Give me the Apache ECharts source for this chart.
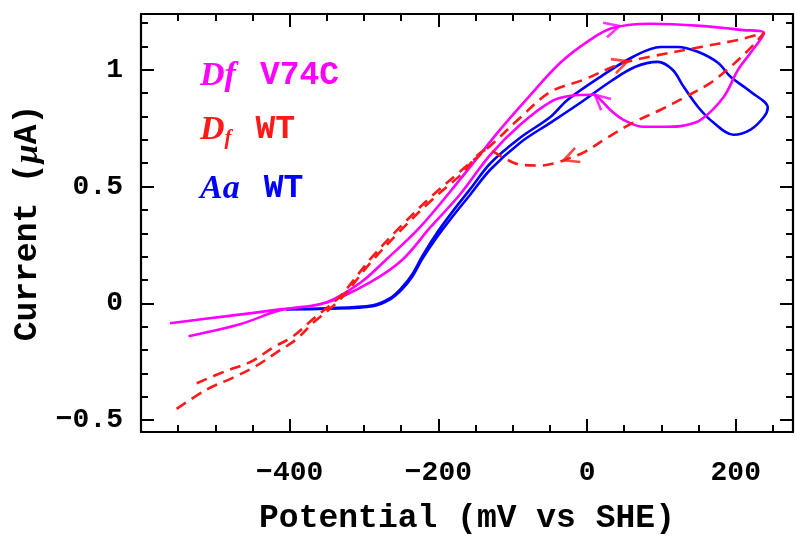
<!DOCTYPE html>
<html>
<head>
<meta charset="utf-8">
<script src="https://cdn.jsdelivr.net/npm/echarts@6.0.0/dist/echarts.min.js"></script>
<style>
html,body{margin:0;padding:0;background:#fff;}
#c{width:795px;height:543px;}
</style>
</head>
<body>
<div id="c"></div>
<script>
// ---- data (potential in mV vs SHE, current in µA) ----
const xMajorTicks = [-400, -200, 0, 200];
const xMinorTicks = [-550,-500,-450,-350,-300,-250,-150,-100,-50,50,100,150,250];
const yMajorTicks = [-0.5, 0, 0.5, 1];
const yMinorTicks = [-0.4,-0.3,-0.2,-0.1,0.1,0.2,0.3,0.4,0.6,0.7,0.8,0.9,1.1,1.2];

const dfV74C = [
  [-536,-0.141],[-467,-0.090],[-413,-0.030],[-351,0.004],[-305,0.088],[-270,0.188],
  [-225,0.325],[-171,0.530],[-117,0.744],[-76,0.893],[-36,1.030],[4,1.128],[34,1.179],
  [85,1.197],[153,1.188],[207,1.171],[238,1.158],
  [220,1.073],[203,1.000],[184,0.885],[153,0.786],[130,0.761],[108,0.756],[76,0.756],
  [49,0.786],[31,0.829],[18,0.872],[8,0.893],[-22,0.889],[-49,0.863],[-90,0.765],
  [-130,0.637],[-171,0.466],[-211,0.325],[-248,0.188],[-292,0.090],[-350,0.004],
  [-413,-0.026],[-487,-0.056],[-561,-0.085]
];
const dfWT = [
  [-525,-0.342],[-485,-0.289],[-454,-0.253],[-422,-0.189],[-395,-0.140],[-369,-0.068],
  [-332,0.031],[-292,0.188],[-252,0.325],[-211,0.453],[-171,0.564],[-130,0.675],
  [-90,0.795],[-49,0.906],[-5,0.957],[45,1.026],[85,1.056],[153,1.098],[203,1.128],[238,1.158],
  [220,1.094],[193,1.013],[166,0.944],[130,0.880],[99,0.829],[62,0.774],[27,0.709],
  [-5,0.645],[-22,0.624],[-40,0.603],[-63,0.590],[-90,0.594],[-113,0.624],[-133,0.658],
  [-171,0.547],[-211,0.436],[-252,0.308],[-292,0.171],[-332,0.017],[-369,-0.085],
  [-391,-0.154],[-418,-0.211],[-445,-0.268],[-476,-0.318],[-512,-0.370],[-559,-0.467]
];
const aaWT = [
  [-405,-0.026],[-350,-0.023],[-288,-0.012],[-265,0.017],[-249,0.060],[-235,0.115],
  [-222,0.188],[-204,0.274],[-184,0.359],[-157,0.466],[-130,0.573],[-90,0.688],
  [-49,0.774],[-9,0.859],[31,0.949],
  [65,1.013],[95,1.034],[115,1.000],[130,0.927],[149,0.842],[170,0.774],[197,0.722],
  [220,0.744],[238,0.799],[243,0.838],
  [220,0.906],[193,0.970],[176,1.030],[149,1.077],[122,1.098],[99,1.098],[62,1.056],
  [18,0.970],[-26,0.872],[-49,0.799],[-90,0.709],[-130,0.600],[-157,0.490],[-184,0.380],
  [-204,0.292],[-222,0.200],[-235,0.125],[-249,0.068],[-265,0.022],[-288,-0.008],
  [-350,-0.021],[-405,-0.024]
];
// arrows: which curve and index of the point where the arrow sits
const arrowMarks = [
  {curve: 'dfV74C', index: 12},
  {curve: 'dfV74C', index: 26},
  {curve: 'dfWT', index: 15},
  {curve: 'dfWT', index: 28}
];

const MAG = '#ff00ff', RED = '#ff1a1a', BLUE = '#0000ff';
const curves = {dfV74C: dfV74C, dfWT: dfWT, aaWT: aaWT};
const curveColor = {dfV74C: MAG, dfWT: RED, aaWT: BLUE};

const MONO = 'Liberation Mono';
const minus = v => String(v).replace('-', '\u2212');
const XMIN = -600, XMAX = 277, YMIN = -0.551, YMAX = 1.239;

function xAx(pos, ticks, len, showLine, labels) {
  return {
    type: 'value', min: XMIN, max: XMAX, position: pos,
    axisLine: {show: showLine, onZero: false, lineStyle: {color: '#000', width: 2.2}},
    axisTick: {show: true, inside: true, length: len, customValues: ticks, lineStyle: {color: '#000', width: 2}},
    axisLabel: labels ? {show: true, customValues: xMajorTicks, formatter: minus, color: '#000',
      fontFamily: MONO, fontWeight: 'bold', fontSize: 28, margin: 27} : {show: false},
    splitLine: {show: false}
  };
}
function yAx(pos, ticks, len, showLine, labels) {
  return {
    type: 'value', min: YMIN, max: YMAX, position: pos,
    axisLine: {show: showLine, onZero: false, lineStyle: {color: '#000', width: 2.2}},
    axisTick: {show: true, inside: true, length: len, customValues: ticks, lineStyle: {color: '#000', width: 2}},
    axisLabel: labels ? {show: true, customValues: yMajorTicks, formatter: minus, color: '#000',
      fontFamily: MONO, fontWeight: 'bold', fontSize: 28, margin: 18} : {show: false},
    splitLine: {show: false}
  };
}

const xAxes = [
  xAx('bottom', xMajorTicks, 13, true, true),
  xAx('bottom', xMinorTicks, 7, false, false),
  xAx('top', xMajorTicks, 13, true, false),
  xAx('top', xMinorTicks, 7, false, false)
];
xAxes[0].name = 'Potential (mV vs SHE)';
xAxes[0].nameLocation = 'middle';
xAxes[0].nameGap = 70;
xAxes[0].nameTextStyle = {fontFamily: MONO, fontWeight: 'bold', fontSize: 33, color: '#000'};

const yAxes = [
  yAx('left', yMajorTicks, 13, true, true),
  yAx('left', yMinorTicks, 7, false, false),
  yAx('right', yMajorTicks, 13, true, false),
  yAx('right', yMinorTicks, 7, false, false)
];
yAxes[0].name = 'Current ({mu|\u03bc}A)';
yAxes[0].nameLocation = 'middle';
yAxes[0].nameGap = 77;
yAxes[0].nameRotate = 90;
yAxes[0].nameTextStyle = {fontFamily: MONO, fontWeight: 'bold', fontSize: 33, color: '#000',
  rich: {mu: {fontFamily: 'Liberation Serif', fontStyle: 'italic', fontWeight: 'bold', fontSize: 34, color: '#000'}}};

function lineSeries(key, dashed) {
  return {
    type: 'line', name: key, data: curves[key], xAxisIndex: 0, yAxisIndex: 0,
    showSymbol: false, smooth: 0.35, animation: false,
    lineStyle: {color: curveColor[key], width: 2.6, type: dashed ? [11, 7] : 'solid'},
    z: 3
  };
}

const legendRich = {
  i: {fontFamily: 'Liberation Serif', fontStyle: 'italic', fontWeight: 'bold', fontSize: 34},
  b: {fontFamily: MONO, fontWeight: 'bold', fontSize: 33, padding: [0, 0, 0, 24]},
  s: {fontFamily: 'Liberation Serif', fontStyle: 'italic', fontWeight: 'bold', fontSize: 21, padding: [18, 0, 0, 0]}
};
function legendText(text, color, y) {
  const rich = {};
  Object.keys(legendRich).forEach(k => { rich[k] = Object.assign({}, legendRich[k], {fill: color}); });
  return {type: 'text', x: 200, y: y, style: {text: text, rich: rich, fill: color, verticalAlign: 'middle', align: 'left'}, z: 10};
}

const option = {
  animation: false,
  backgroundColor: '#fff',
  grid: {left: 141, right: 2, top: 14, bottom: 111, containLabel: false},
  xAxis: xAxes,
  yAxis: yAxes,
  series: [
    lineSeries('aaWT', false),
    lineSeries('dfV74C', false),
    lineSeries('dfWT', true),
    {
      id: 'arrows', type: 'scatter', xAxisIndex: 0, yAxisIndex: 0, animation: false,
      symbol: 'path://M0,0 L12,6 L0,12', symbolSize: [15, 15], symbolKeepAspect: false,
      data: [], z: 5
    }
  ],
  graphic: [
    legendText('{i|Df}{b|V74C}', MAG, 76),
    legendText('{i|D}{s|f}{b|WT}', RED, 130),
    legendText('{i|Aa}{b|WT}', BLUE, 189)
  ]
};

const chart = echarts.init(document.getElementById('c'), null, {renderer: 'canvas', width: 795, height: 543});
chart.setOption(option);

const arrowData = arrowMarks.map(a => {
  const pts = curves[a.curve];
  const p0 = chart.convertToPixel({xAxisIndex: 0, yAxisIndex: 0}, pts[a.index - 1]);
  const p1 = chart.convertToPixel({xAxisIndex: 0, yAxisIndex: 0}, pts[a.index + 1]);
  const ang = Math.atan2(-(p1[1] - p0[1]), p1[0] - p0[0]) * 180 / Math.PI;
  return {
    value: pts[a.index],
    symbolRotate: ang,
    itemStyle: {color: 'none', borderColor: curveColor[a.curve], borderWidth: 2.6}
  };
});
chart.setOption({series: [{id: 'arrows', data: arrowData}]});
</script>
</body>
</html>
